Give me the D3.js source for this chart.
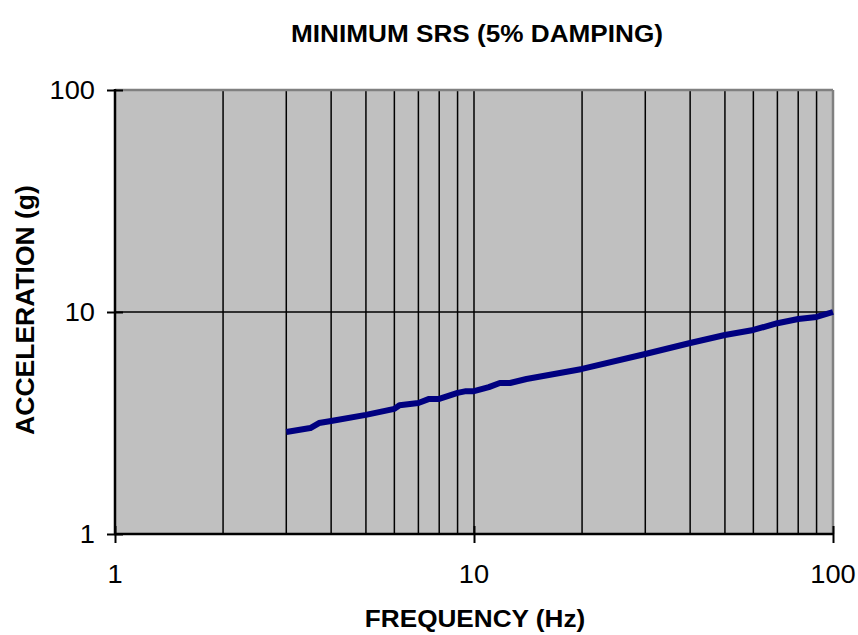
<!DOCTYPE html>
<html>
<head>
<meta charset="utf-8">
<script src="https://cdn.jsdelivr.net/npm/d3@7"></script>
<style>
body { margin: 0; background: #fff; }
svg text { font-family: Arial, "Liberation Sans", sans-serif; fill: #000; }
</style>
</head>
<body>
<div id="chart"></div>
<script>
// minimum SRS curve
var freqs	= [3, 3.5, 3.7, 4, 5, 6, 6.2, 7, 7.5, 8, 9, 9.5, 10, 11, 11.8, 12.6, 14, 20, 30, 40, 50, 60, 70, 80, 90, 100];
var accels	= [2.88, 3.0, 3.16, 3.23, 3.44, 3.66, 3.8, 3.89, 4.06, 4.06, 4.32, 4.4, 4.4, 4.59, 4.79, 4.79, 4.99, 5.54, 6.47, 7.25, 7.88, 8.3, 8.9, 9.3, 9.5, 10];
var xTicks	= [1, 10, 100];
var yTicks	= [1, 10, 100];
var xGrid	= [2, 3, 4, 5, 6, 7, 8, 9, 10, 20, 30, 40, 50, 60, 70, 80, 90];
var yGrid	= [10];

var	W = 858, H = 635,
	margin	= {top: 90, right: 25, bottom: 101, left: 115},
	w	= W - margin.left - margin.right,
	h	= H - margin.top - margin.bottom,
	sx	= 1.09; // text in the picture is a bit wider than tall

var	x	= d3.scaleLog().domain([1, 100]).range([0, w]),
	y	= d3.scaleLog().domain([1, 100]).range([h, 0]);

var	svg	= d3.select("#chart").append("svg").attr("width", W).attr("height", H),
	g	= svg.append("g").attr("transform", "translate(" + margin.left + "," + margin.top + ")");

g.append("rect").attr("width", w).attr("height", h).attr("fill", "#c0c0c0");

// grid
g.selectAll(".vgrid").data(xGrid).enter().append("line").attr("class", "vgrid")
	.attr("x1", function(d) { return x(d); }).attr("x2", function(d) { return x(d); })
	.attr("y1", 0).attr("y2", h)
	.attr("stroke", "#000").attr("stroke-width", 1.5);
g.selectAll(".hgrid").data(yGrid).enter().append("line").attr("class", "hgrid")
	.attr("x1", 0).attr("x2", w)
	.attr("y1", function(d) { return y(d); }).attr("y2", function(d) { return y(d); })
	.attr("stroke", "#000").attr("stroke-width", 1.5);

// top / right frame in grey
g.append("line").attr("x1", 0).attr("x2", w).attr("y1", 0).attr("y2", 0).attr("stroke", "#808080").attr("stroke-width", 2.5);
g.append("line").attr("x1", w).attr("x2", w).attr("y1", 0).attr("y2", h).attr("stroke", "#808080").attr("stroke-width", 2.5);

// curve
var line = d3.line().x(function(d) { return x(d[0]); }).y(function(d) { return y(d[1]); });
g.append("path").datum(d3.zip(freqs, accels))
	.attr("d", line).attr("fill", "none")
	.attr("stroke", "#000080").attr("stroke-width", 6)
	.attr("stroke-linejoin", "round").attr("stroke-linecap", "butt");

// axes: ticks cross the axis line
var xAxis = g.append("g").attr("transform", "translate(0," + h + ")")
	.call(d3.axisBottom(x).tickValues(xTicks).tickSize(9).tickFormat(""));
xAxis.select(".domain").remove();
xAxis.selectAll(".tick line").attr("y1", -8).attr("stroke-width", 2);
g.append("line").attr("x1", -1).attr("x2", w + 1).attr("y1", h).attr("y2", h).attr("stroke", "#000").attr("stroke-width", 2.5);

var yAxis = g.append("g").call(d3.axisLeft(y).tickValues(yTicks).tickSize(8).tickFormat(""));
yAxis.select(".domain").remove();
yAxis.selectAll(".tick line").attr("x2", 8).attr("x1", -8).attr("stroke-width", 2);
g.append("line").attr("x1", 0).attr("x2", 0).attr("y1", -1).attr("y2", h + 1).attr("stroke", "#000").attr("stroke-width", 2.5);

// tick labels
g.selectAll(".xl").data(xTicks).enter().append("text").attr("class", "xl")
	.attr("transform", function(d) { return "translate(" + x(d) + "," + (h + 49) + ") scale(" + sx + ",1)"; })
	.attr("text-anchor", "middle").style("font-size", "25px")
	.text(function(d) { return d; });
g.selectAll(".yl").data(yTicks).enter().append("text").attr("class", "yl")
	.attr("transform", function(d) { return "translate(-20," + (y(d) + 9) + ") scale(" + sx + ",1)"; })
	.attr("text-anchor", "end").style("font-size", "25px")
	.text(function(d) { return d; });

// titles
svg.append("text").attr("transform", "translate(477,42) scale(" + sx + ",1)")
	.attr("text-anchor", "middle").style("font-size", "24px").style("font-weight", "bold")
	.text("MINIMUM SRS (5% DAMPING)");
svg.append("text").attr("transform", "translate(475,627) scale(" + sx + ",1)")
	.attr("text-anchor", "middle").style("font-size", "24px").style("font-weight", "bold")
	.text("FREQUENCY (Hz)");
svg.append("text").attr("transform", "translate(34,310) rotate(-90)")
	.attr("text-anchor", "middle").style("font-size", "26.5px").style("font-weight", "bold")
	.text("ACCELERATION (g)");
</script>
</body>
</html>
